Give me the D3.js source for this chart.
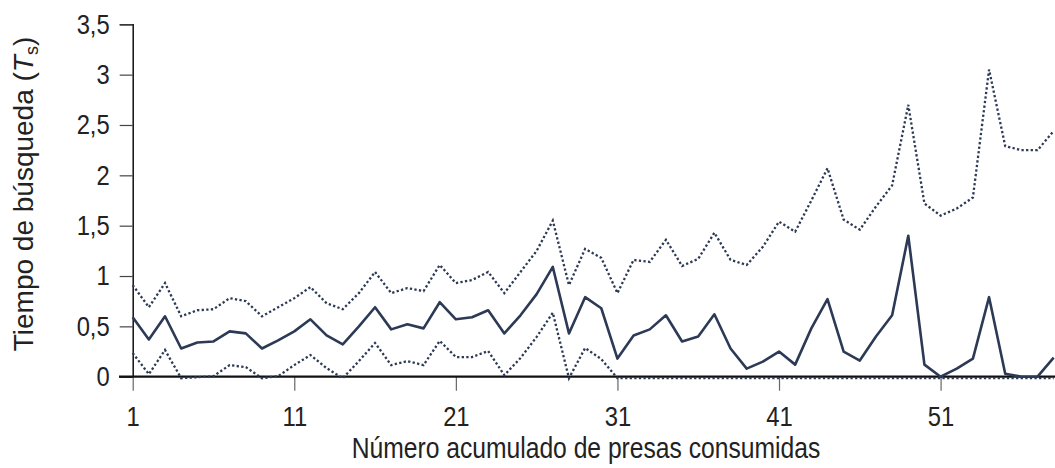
<!DOCTYPE html>
<html>
<head>
<meta charset="utf-8">
<script src="https://cdn.jsdelivr.net/npm/d3@7"></script>
<style>
  html, body { margin: 0; padding: 0; background: #fff; }
  svg { display: block; }
  text { font-family: "Liberation Sans", Arial, sans-serif; }
</style>
</head>
<body>
<svg id="chart" width="1055" height="468"></svg>
<script>
// ---- data ----
const presas = d3.range(1, 59);
const media = [0.59,0.37,0.60,0.28,0.34,0.35,0.45,0.43,0.28,0.36,
               0.45,0.57,0.41,0.32,0.50,0.69,0.47,0.52,0.48,0.74,
               0.57,0.59,0.66,0.43,0.61,0.82,1.09,0.43,0.79,0.68,
               0.18,0.41,0.47,0.61,0.35,0.40,0.62,0.28,0.08,0.15,
               0.25,0.12,0.48,0.77,0.25,0.16,0.40,0.61,1.40,0.12,
               0.00,0.08,0.18,0.79,0.03,0.00,0.00,0.19];
const superior = [0.91,0.69,0.93,0.60,0.66,0.67,0.78,0.75,0.60,0.69,
                  0.78,0.89,0.73,0.67,0.83,1.04,0.83,0.88,0.85,1.11,
                  0.93,0.96,1.04,0.83,1.04,1.25,1.55,0.91,1.27,1.18,
                  0.83,1.16,1.14,1.36,1.10,1.17,1.43,1.16,1.11,1.29,
                  1.54,1.44,1.75,2.07,1.56,1.46,1.69,1.90,2.70,1.72,
                  1.60,1.67,1.78,3.05,2.29,2.25,2.25,2.44];
const inferior = [0.25,0.04,0.28,0.00,0.01,0.02,0.13,0.11,0.00,0.02,
                  0.13,0.23,0.10,0.00,0.17,0.35,0.13,0.17,0.13,0.37,
                  0.21,0.21,0.27,0.03,0.20,0.41,0.65,0.00,0.30,0.19,
                  0,0,0,0,0,0,0,0,0,0,
                  0,0,0,0,0,0,0,0,0,0,
                  0,0,0,0,0,0,0,0];
const xTicks = [1, 11, 21, 31, 41, 51];
const yTicks = [0, 0.5, 1, 1.5, 2, 2.5, 3, 3.5];

// ---- layout ----
const svg = d3.select("#chart");
const x = d3.scaleLinear().domain([1, 58]).range([132.7, 1053.7]);
const y = d3.scaleLinear().domain([0, 3.5]).range([376.7, 24.3]);
const lineColor = "#2c3a55";
const sq = 0.85;

// y axis
const yAxis = svg.append("g").attr("transform", "translate(132.7,0)")
  .call(d3.axisLeft(y).tickValues(yTicks).tickSize(13).tickPadding(10)
        .tickFormat(d => String(d).replace(".", ",")));
yAxis.select(".domain").attr("stroke", "#111").attr("stroke-width", 1.5);
yAxis.selectAll(".tick line").attr("stroke", "#444").attr("stroke-width", 1.2);
yAxis.selectAll(".tick text")
  .attr("font-family", "'Liberation Sans', Arial, sans-serif")
  .attr("font-size", 28).attr("fill", "#222")
  .attr("x", -23 / sq).attr("transform", `scale(${sq},1)`);

// x axis
const xAxis = svg.append("g").attr("transform", "translate(0,376.7)")
  .call(d3.axisBottom(x).tickValues(xTicks).tickSize(14).tickFormat(d3.format("d")));
xAxis.select(".domain").remove();
xAxis.selectAll(".tick line").attr("stroke", "#666").attr("stroke-width", 1.2);
xAxis.selectAll(".tick text")
  .attr("font-family", "'Liberation Sans', Arial, sans-serif")
  .attr("font-size", 28).attr("fill", "#222")
  .attr("y", 49.5).attr("dy", 0).attr("transform", `scale(${sq},1)`);
svg.append("line")
  .attr("x1", 119).attr("x2", 1055)
  .attr("y1", y(0)).attr("y2", y(0))
  .attr("stroke", "#111").attr("stroke-width", 2.2);

// lines
const line = d3.line().x((d, i) => x(presas[i])).y(d => y(d));
svg.append("path").datum(superior).attr("d", line)
  .attr("fill", "none").attr("stroke", lineColor).attr("stroke-width", 2.3)
  .attr("stroke-dasharray", "2.3,2.3");
svg.append("path").datum(inferior).attr("d", line)
  .attr("fill", "none").attr("stroke", lineColor).attr("stroke-width", 2.3)
  .attr("stroke-dasharray", "2.3,2.3")
  .attr("transform", "translate(0,1.5)");
svg.append("path").datum(media).attr("d", line)
  .attr("fill", "none").attr("stroke", lineColor).attr("stroke-width", 2.6)
  .attr("stroke-linejoin", "round");

// titles
svg.append("text")
  .attr("x", 586 / sq).attr("y", 458).attr("text-anchor", "middle")
  .attr("transform", `scale(${sq},1)`)
  .attr("font-size", 29).attr("fill", "#222")
  .text("Número acumulado de presas consumidas");

const yt = svg.append("text")
  .attr("transform", "translate(33,194) rotate(-90)")
  .attr("text-anchor", "middle")
  .attr("font-size", 28).attr("fill", "#222");
yt.append("tspan").text("Tiempo de búsqueda (");
yt.append("tspan").attr("font-style", "italic").text("T");
yt.append("tspan").attr("font-size", 18).attr("dy", 5).text("s");
yt.append("tspan").attr("dy", -5).text(")");
</script>
</body>
</html>
